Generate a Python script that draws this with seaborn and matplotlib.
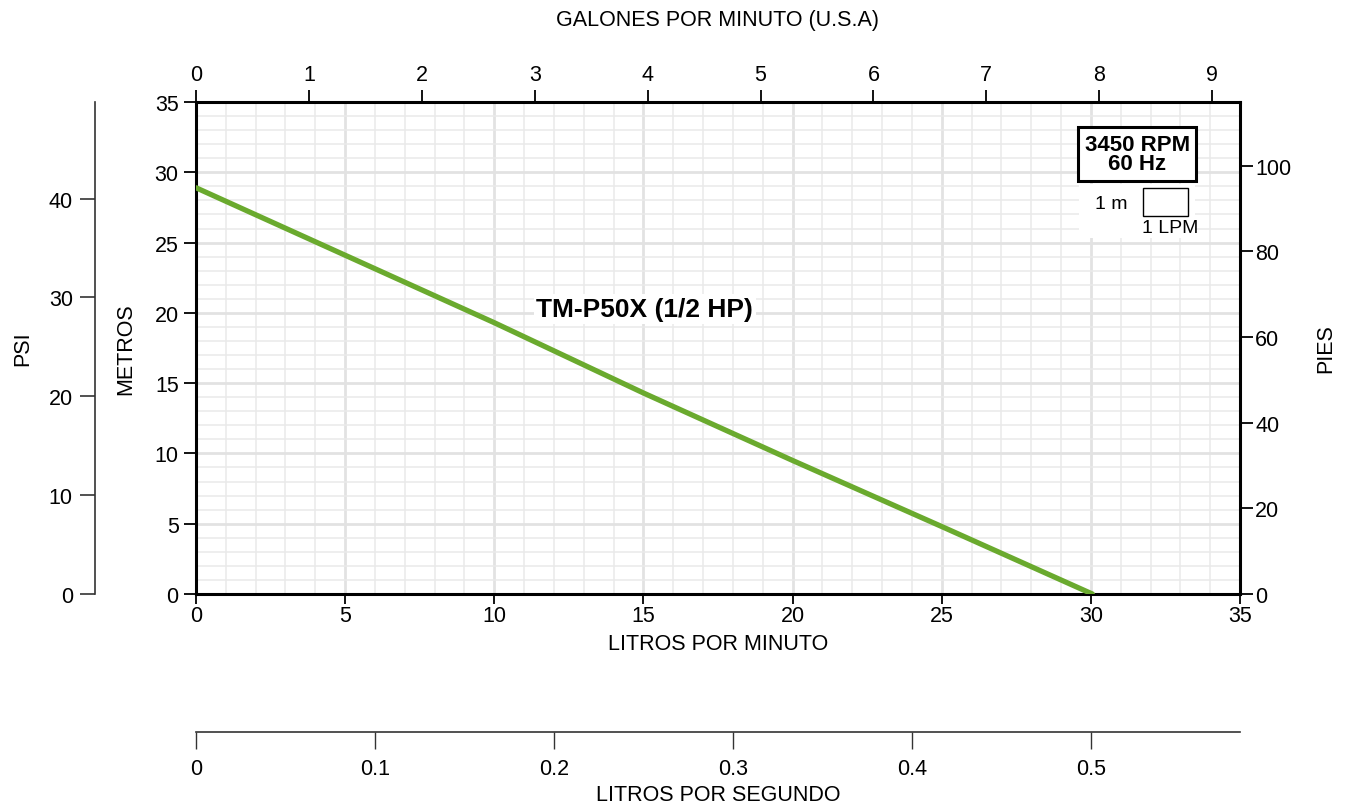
import numpy as np
import pandas as pd
import matplotlib
matplotlib.use("Agg")
import matplotlib.pyplot as plt
import seaborn as sns
from matplotlib.patches import Rectangle

# curve: flow (litros por minuto) vs head (metros)
lpm = [0, 5, 10, 15, 20, 25, 30.05]
metros = [28.9, 24.1, 19.3, 14.3, 9.5, 4.8, 0.0]

lpm_ticks = list(range(0, 36, 5))
m_ticks = list(range(0, 36, 5))
gpm_ticks = list(range(0, 10))
pies_ticks = [0, 20, 40, 60, 80, 100]
psi_ticks = [0, 10, 20, 30, 40]
lps_ticks = [0, 0.1, 0.2, 0.3, 0.4, 0.5]
lps_labels = ['0', '0.1', '0.2', '0.3', '0.4', '0.5']

modelo = 'TM-P50X (1/2 HP)'
placa = '3450 RPM\n60 Hz'

sns.set_style("white")
plt.rcParams['font.family'] = ['Liberation Sans', 'DejaVu Sans']
plt.rcParams['text.color'] = 'black'
plt.rcParams['axes.labelcolor'] = 'black'
plt.rcParams['xtick.color'] = 'black'
plt.rcParams['ytick.color'] = 'black'

df = pd.DataFrame({'lpm': lpm, 'metros': metros})

fig = plt.figure(figsize=(13.55, 8.12), dpi=100)
ax = fig.add_axes([196 / 1355, 217 / 812, 1044 / 1355, 492 / 812])

sns.lineplot(data=df, x='lpm', y='metros', ax=ax, color='#6aaa2e', lw=3.8, zorder=5)

ax.set_xlim(0, 35)
ax.set_ylim(0, 35)
ax.set_xticks(lpm_ticks)
ax.set_yticks(m_ticks)
ax.set_xticks(range(0, 36), minor=True)
ax.set_yticks(range(0, 36), minor=True)
ax.grid(which='major', color='#e2e2e2', lw=2.0, zorder=0)
ax.grid(which='minor', color='#e9e9e9', lw=1.1, zorder=0)
ax.set_axisbelow(True)
ax.tick_params(which='minor', length=0)
ax.tick_params(which='major', length=9, width=1.3, direction='out', labelsize=15.5,
               left=True, bottom=True)
ax.tick_params(axis='x', which='major', length=7, pad=1)
for s in ax.spines.values():
    s.set_visible(True)
    s.set_linewidth(2.2)
    s.set_color('black')

ax.set_xlabel('LITROS POR MINUTO', fontsize=15.5, labelpad=5)
ax.set_ylabel('METROS', fontsize=15.5, labelpad=13)

# galones por minuto (arriba)
top = ax.secondary_xaxis('top', functions=(lambda x: x / 3.785, lambda x: x * 3.785))
top.set_xticks(gpm_ticks)
top.tick_params(length=9, width=1.3, labelsize=15.5)
top.set_xlabel('GALONES POR MINUTO (U.S.A)', fontsize=15.5, labelpad=28)

# pies (derecha)
right = ax.secondary_yaxis('right', functions=(lambda y: y * 3.281, lambda y: y / 3.281))
right.set_yticks(pies_ticks)
right.tick_params(length=9, width=1.3, labelsize=15.5, pad=2)
right.set_ylabel('PIES', fontsize=15.5, labelpad=17)

# psi (eje exterior izquierdo)
psi = ax.secondary_yaxis(-0.0967, functions=(lambda y: y * 1.4219, lambda y: y / 1.4219))
psi.set_yticks(psi_ticks)
psi.tick_params(length=11, width=1.2, labelsize=15.5, color='#333333', pad=5)
psi.spines['left'].set_color('#333333')
psi.spines['left'].set_linewidth(1.2)
psi.set_ylabel('PSI', fontsize=15.5, labelpad=11)

# litros por segundo (eje exterior inferior)
lps = ax.secondary_xaxis(-0.2805, functions=(lambda x: x / 60, lambda x: x * 60))
lps.set_xticks(lps_ticks)
lps.set_xticklabels(lps_labels)
lps.tick_params(length=12, width=1.0, labelsize=15.5, color='#333333', pad=7)
lps.spines['bottom'].set_color('#333333')
lps.spines['bottom'].set_linewidth(1.2)
lps.set_xlabel('LITROS POR SEGUNDO', fontsize=15.5, labelpad=3)

# rotulo del modelo
ax.text(15.05, 20.3, modelo, fontsize=19, fontweight='bold', ha='center', va='center',
        zorder=6, bbox=dict(facecolor='white', edgecolor='none', pad=2))

# placa de velocidad
ax.text(31.55, 31.3, placa, fontsize=16, fontweight='bold', ha='center', va='center',
        linespacing=0.9, zorder=7,
        bbox=dict(boxstyle='square,pad=0.3', facecolor='white', edgecolor='black', lw=2.2))

# escala de referencia
ax.add_patch(Rectangle((29.6, 25.3), 3.9, 3.9, facecolor='white', edgecolor='none', zorder=3))
ax.add_patch(Rectangle((31.75, 26.9), 1.5, 2.0, facecolor='white', edgecolor='black', lw=1.0, zorder=4))
ax.text(30.7, 27.8, '1 m', fontsize=14, ha='center', va='center', zorder=4)
ax.text(32.65, 26.1, '1 LPM', fontsize=14, ha='center', va='center', zorder=4)

fig.savefig('out.png', dpi=100)
